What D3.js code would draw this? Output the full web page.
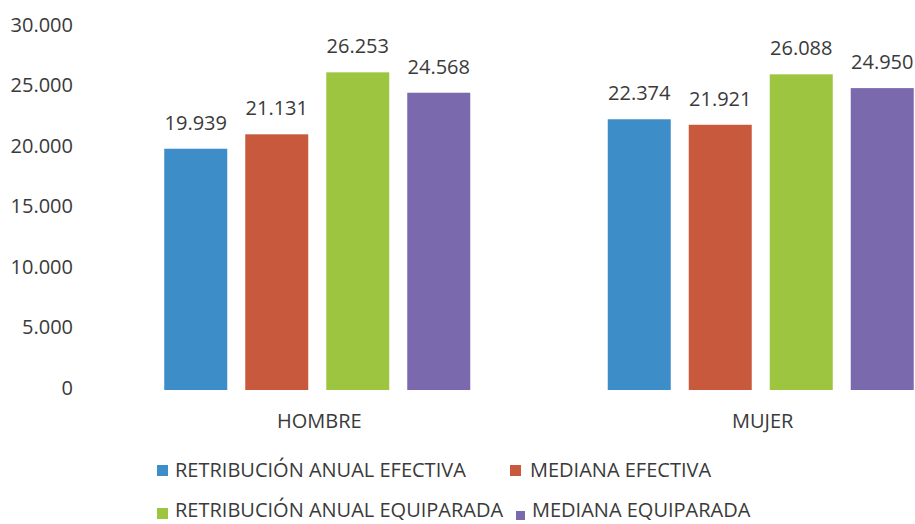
<!DOCTYPE html>
<html><head><meta charset="utf-8">
<script src="https://cdn.jsdelivr.net/npm/d3@7"></script>
<style>body{margin:0;background:#fff}svg{display:block}text{font-family:"Open Sans",sans-serif}</style>
</head><body><svg id="c" width="915" height="524"></svg>
<script>
const categories = ["HOMBRE", "MUJER"];
const seriesNames = ["RETRIBUCIÓN ANUAL EFECTIVA", "MEDIANA EFECTIVA", "RETRIBUCIÓN ANUAL EQUIPARADA", "MEDIANA EQUIPARADA"];
const retribucionEfectiva = [19939, 22374];
const medianaEfectiva = [21131, 21921];
const retribucionEquiparada = [26253, 26088];
const medianaEquiparada = [24568, 24950];
const yTicks = [0, 5000, 10000, 15000, 20000, 25000, 30000];
const colors = ["#3d8ec8", "#c9593c", "#9dc53f", "#7b69ad"];

const seriesValues = [retribucionEfectiva, medianaEfectiva, retribucionEquiparada, medianaEquiparada];
const svg = d3.select("#c");
const fmt = v => d3.format(",")(v).replace(/,/g, ".");
const textColor = "#3a3a3a";

const y = d3.scaleLinear().domain([0, 30000]).range([390, 27]);
const x0 = d3.scaleBand().domain(categories).range([95.5, 982.5]);
const x1 = d3.scaleBand().domain(seriesNames).range([0, 306]).paddingInner(18/81).paddingOuter(0);
const groupOffset = (x0.bandwidth() - 306) / 2;

// y axis labels
const yAxis = d3.axisLeft(y).tickValues(yTicks).tickFormat(fmt).tickSize(0).tickPadding(0);
const ya = svg.append("g").attr("transform", "translate(73,-2)").call(yAxis);
ya.select(".domain").remove();
ya.selectAll("text").attr("font-size", 20).attr("fill", textColor).attr("font-family", "Open Sans, sans-serif");

// bars
const groups = svg.selectAll("g.grp").data(categories).enter().append("g")
  .attr("transform", d => `translate(${x0(d) + groupOffset},0)`);
seriesNames.forEach((s, si) => {
  groups.append("rect")
    .attr("x", x1(s)).attr("width", x1.bandwidth())
    .attr("y", (d, i) => y(seriesValues[si][i]))
    .attr("height", (d, i) => y(0) - y(seriesValues[si][i]))
    .attr("fill", colors[si]);
  groups.append("text")
    .attr("x", x1(s) + x1.bandwidth() / 2)
    .attr("y", (d, i) => y(seriesValues[si][i]) - 19)
    .attr("text-anchor", "middle").attr("font-size", 20).attr("fill", textColor)
    .text((d, i) => fmt(seriesValues[si][i]));
});

// x axis labels
const xAxis = d3.axisBottom(x0).tickSize(0).tickPadding(0);
const xa = svg.append("g").attr("transform", "translate(2,414)").call(xAxis);
xa.select(".domain").remove();
xa.selectAll("text").attr("font-size", 20).attr("fill", textColor).attr("font-family", "Open Sans, sans-serif").attr("dy", "0.71em");

// legend
const legendPos = [[157, 465, 11], [510, 465, 11], [157, 508, 11], [516, 511, 9]];
const textPos = [[175, 477], [530, 477], [175, 517], [532, 517]];
seriesNames.forEach((s, i) => {
  svg.append("rect").attr("x", legendPos[i][0]).attr("y", legendPos[i][1]).attr("width", legendPos[i][2]).attr("height", legendPos[i][2]).attr("fill", colors[i]);
  svg.append("text").attr("x", textPos[i][0]).attr("y", textPos[i][1]).attr("font-size", 20).attr("fill", textColor).text(s);
});
</script></body></html>
